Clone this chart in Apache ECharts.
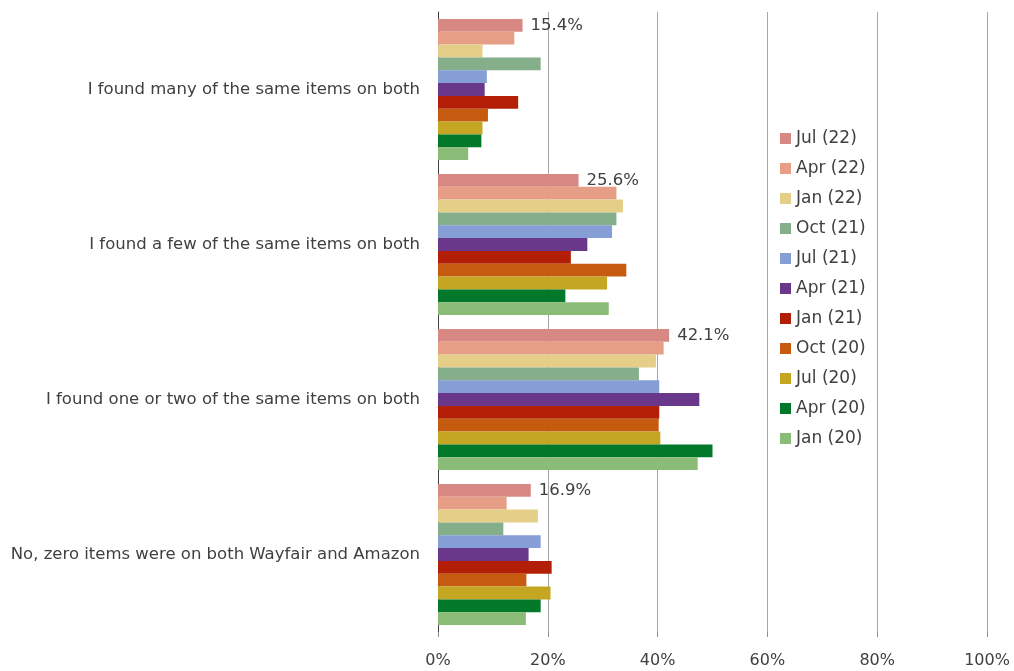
<!DOCTYPE html>
<html>
<head>
<meta charset="utf-8">
<script src="https://cdn.jsdelivr.net/npm/echarts@6/dist/echarts.min.js"></script>
<style>
  html, body { margin: 0; padding: 0; background: #fff; }
  #chart { width: 1014px; height: 671px; }
</style>
</head>
<body>
<div id="chart"></div>
<script>
// answers, top to bottom
const categories = [
  'I found many of the same items on both',
  'I found a few of the same items on both',
  'I found one or two of the same items on both',
  'No, zero items were on both Wayfair and Amazon'
]
// survey waves, newest first (as in legend)
const waves = ['Jul (22)', 'Apr (22)', 'Jan (22)', 'Oct (21)', 'Jul (21)', 'Apr (21)',
  'Jan (21)', 'Oct (20)', 'Jul (20)', 'Apr (20)', 'Jan (20)']
const colors = ['#D78883', '#E79E86', '#E5CF88', '#85AE8B', '#869ED6', '#69388A',
  '#B21F06', '#C65B10', '#C4A623', '#01782A', '#8BBC77']

// percentages per wave, one value per answer
const jul22 = [15.4, 25.6, 42.1, 16.9]
const apr22 = [13.9, 32.5, 41.1, 12.5]
const jan22 = [8.1, 33.7, 39.7, 18.2]
const oct21 = [18.7, 32.5, 36.6, 11.9]
const jul21 = [8.9, 31.7, 40.3, 18.7]
const apr21 = [8.5, 27.2, 47.6, 16.5]
const jan21 = [14.6, 24.2, 40.3, 20.7]
const oct20 = [9.1, 34.3, 40.2, 16.1]
const jul20 = [8.1, 30.8, 40.5, 20.5]
const apr20 = [7.9, 23.2, 50.0, 18.7]
const jan20 = [5.5, 31.1, 47.3, 16.0]
const values = [jul22, apr22, jan22, oct21, jul21, apr21, jan21, oct20, jul20, apr20, jan20]

const xTicks = [0, 20, 40, 60, 80, 100]

let chart = echarts.init(document.getElementById('chart'))

let series = waves.map(function (name, i) {
  return {
    name: name,
    type: 'bar',
    data: values[i],
    barGap: '0%',
    barCategoryGap: '9%',
    itemStyle: { color: colors[i] },
    label: i === 0 ? {
      show: true,
      position: 'right',
      distance: 8,
      color: '#404040',
      fontFamily: 'DejaVu Sans',
      fontSize: 16.5,
      formatter: function (p) { return p.value.toFixed(1) + '%' }
    } : { show: false }
  }
})

chart.setOption({
  animation: false,
  color: colors,
  textStyle: { fontFamily: 'DejaVu Sans' },
  grid: { left: 438, right: 27, top: 12, bottom: 39, containLabel: false },
  legend: {
    orient: 'vertical',
    left: 775,
    top: 125,
    itemWidth: 11,
    itemHeight: 11,
    itemGap: 13,
    icon: 'rect',
    textStyle: { fontSize: 17, color: '#404040', fontFamily: 'DejaVu Sans' },
    data: waves
  },
  xAxis: {
    type: 'value',
    min: xTicks[0],
    max: xTicks[xTicks.length - 1],
    interval: 20,
    axisLine: { show: false },
    axisTick: { show: true, length: 5, lineStyle: { color: '#8C8C8C' } },
    axisLabel: {
      margin: 21,
      fontSize: 16,
      color: '#404040',
      fontFamily: 'DejaVu Sans',
      formatter: '{value}%'
    },
    splitLine: { show: true, lineStyle: { color: '#A6A6A6', width: 1 } }
  },
  yAxis: {
    type: 'category',
    inverse: true,
    data: categories,
    axisLine: { show: true, lineStyle: { color: '#404040', width: 1 } },
    axisTick: { show: false },
    axisLabel: {
      margin: 18,
      fontSize: 16.5,
      color: '#404040',
      fontFamily: 'DejaVu Sans'
    }
  },
  series: series
})
</script>
</body>
</html>
